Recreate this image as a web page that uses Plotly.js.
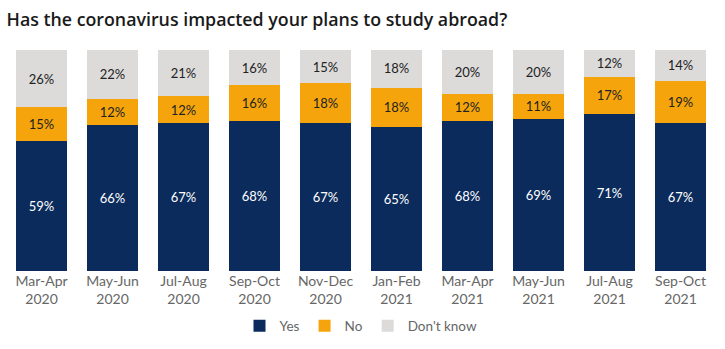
<!DOCTYPE html>
<html><head><meta charset="utf-8">
<script src="https://cdn.plot.ly/plotly-3.0.1.min.js"></script>
<style>html,body{margin:0;padding:0;background:#fff;}</style>
</head><body>
<div id="chart" style="width:725px;height:349px;"></div>
<script>
const categories = ["Mar-Apr<br>2020","May-Jun<br>2020","Jul-Aug<br>2020","Sep-Oct<br>2020","Nov-Dec<br>2020","Jan-Feb<br>2021","Mar-Apr<br>2021","May-Jun<br>2021","Jul-Aug<br>2021","Sep-Oct<br>2021"];
const yesVals = [59,66,67,68,67,65,68,69,71,67];
const noVals = [15,12,12,16,18,18,12,11,17,19];
const dkVals = [26,22,21,16,15,18,20,20,12,14];

function mk(name, vals, color, txtColor){
  return {type:'bar', name:name, x:categories, y:vals, marker:{color:color},
    text:vals.map(v=>v+'%'), textposition:'inside', insidetextanchor:'middle', textangle:0,
    constraintext:'none', textfont:{family:'Lato, Open Sans, sans-serif', size:13, color:txtColor},
    hoverinfo:'skip'};
}
const data = [
  mk('Yes', yesVals, '#0b2b5c', '#ffffff'),
  mk('No', noVals, '#f5a50b', '#222222'),
  mk("Don't know", dkVals, '#dcdbd9', '#222222')
];
const layout = {
  width:725, height:349, barmode:'stack', bargap:0.27,
  paper_bgcolor:'#ffffff', plot_bgcolor:'#ffffff',
  margin:{l:6, r:9, t:50, b:78, autoexpand:false},
  title:{text:"Has the coronavirus impacted your plans to study abroad?", x:0.009, xanchor:'left', y:0.96, yanchor:'top',
    font:{family:'Open Sans, sans-serif', size:17.8, weight:600, color:'#1a1a1a'}},
  xaxis:{showgrid:false, zeroline:false, showline:false, ticks:'', automargin:false, ticklen:0,
    tickfont:{family:'Lato, Open Sans, sans-serif', size:14, color:'#666666'}},
  yaxis:{range:[0,100], visible:false, showgrid:false, zeroline:false, automargin:false},
  showlegend:true,
  legend:{orientation:'h', x:0.5, xanchor:'center', yref:'container', y:0.066, yanchor:'middle', traceorder:'normal',
    font:{family:'Lato, Open Sans, sans-serif', size:13.5, color:'#666666'}, itemwidth:30}
};
Plotly.newPlot('chart', data, layout, {displayModeBar:false, staticPlot:true});
</script>
</body></html>
